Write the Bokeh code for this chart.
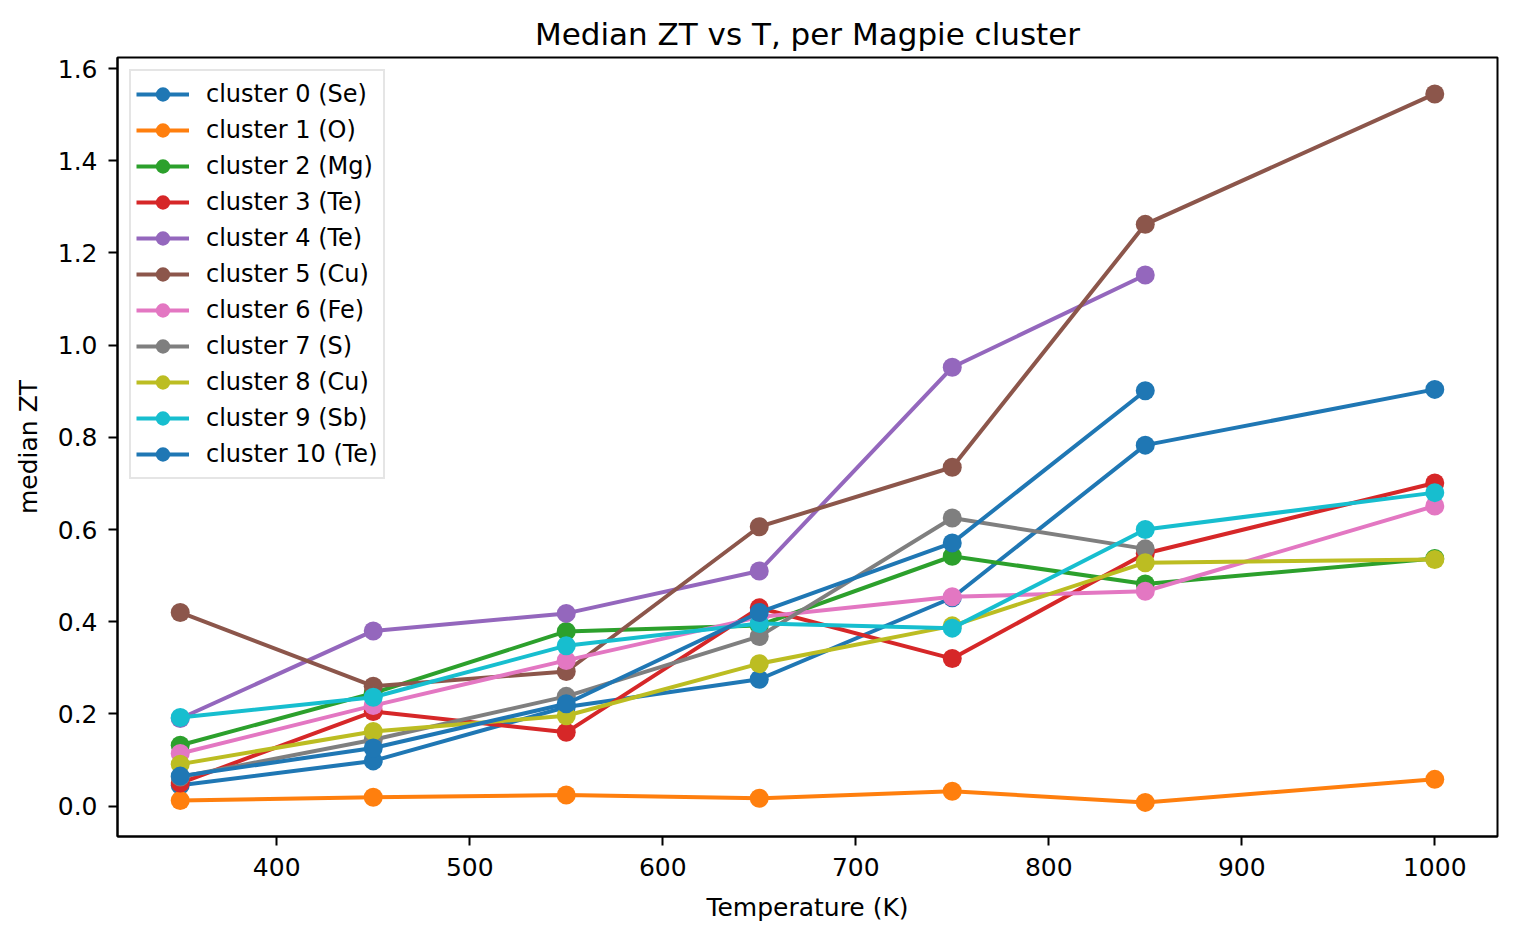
import numpy as np
from bokeh.plotting import figure
from bokeh.models import FixedTicker, PrintfTickFormatter, Range1d, Legend
from bokeh.embed import file_html
from bokeh.resources import INLINE

nan = float("nan")

temperatures = [350, 450, 550, 650, 750, 850, 1000]

labels = ["cluster 0 (Se)", "cluster 1 (O)", "cluster 2 (Mg)", "cluster 3 (Te)",
          "cluster 4 (Te)", "cluster 5 (Cu)", "cluster 6 (Fe)", "cluster 7 (S)",
          "cluster 8 (Cu)", "cluster 9 (Sb)", "cluster 10 (Te)"]

cluster0 = [0.045, 0.098, 0.215, 0.275, 0.452, 0.783, 0.904]
cluster1 = [0.012, 0.019, 0.024, 0.017, 0.032, 0.008, 0.058]
cluster2 = [0.132, 0.245, 0.379, 0.392, 0.542, 0.482, 0.537]
cluster3 = [0.050, 0.205, 0.160, 0.430, 0.320, 0.548, 0.701]
cluster4 = [0.190, 0.380, 0.418, 0.510, 0.952, 1.152, nan]
cluster5 = [0.420, 0.260, 0.292, 0.606, 0.735, 1.262, 1.545]
cluster6 = [0.114, 0.218, 0.316, 0.410, 0.454, 0.466, 0.651]
cluster7 = [0.063, 0.144, 0.238, 0.368, 0.625, 0.558, nan]
cluster8 = [0.091, 0.162, 0.196, 0.309, 0.391, 0.528, 0.535]
cluster9 = [0.192, 0.236, 0.348, 0.396, 0.386, 0.600, 0.680]
cluster10 = [0.065, 0.126, 0.222, 0.420, 0.571, 0.901, nan]

series = [cluster0, cluster1, cluster2, cluster3, cluster4, cluster5,
          cluster6, cluster7, cluster8, cluster9, cluster10]

colors = ["#1f77b4", "#ff7f0e", "#2ca02c", "#d62728", "#9467bd", "#8c564b",
          "#e377c2", "#7f7f7f", "#bcbd22", "#17becf", "#1f77b4"]

x_ticks = [400, 500, 600, 700, 800, 900, 1000]
y_ticks = [0.0, 0.2, 0.4, 0.6, 0.8, 1.0, 1.2, 1.4, 1.6]

FONT = "DejaVu Sans"

p = figure(width=1500, height=924, output_backend="svg", toolbar_location=None,
           x_range=Range1d(317.5, 1032.5), y_range=Range1d(-0.066, 1.624),
           min_border_left=117, min_border_right=3, min_border_top=57,
           min_border_bottom=84, title="Median ZT vs T, per Magpie cluster")

p.background_fill_color = "white"
p.border_fill_color = "white"
p.outline_line_color = "black"
p.outline_line_width = 2
p.grid.visible = False

p.title.align = "center"
p.title.text_font = FONT
p.title.text_font_size = "31px"
p.title.text_font_style = "normal"
p.title.text_color = "black"
p.title.offset = 0
p.title.standoff = 11

for ax in (p.xaxis[0], p.yaxis[0]):
    ax.axis_line_width = 2
    ax.axis_line_color = "black"
    ax.major_tick_line_width = 2
    ax.major_tick_line_color = "black"
    ax.major_tick_out = 9
    ax.major_tick_in = 0
    ax.minor_tick_line_color = None
    ax.major_label_text_font = FONT
    ax.major_label_text_font_size = "25px"
    ax.major_label_text_color = "black"
    ax.axis_label_text_font = FONT
    ax.axis_label_text_font_size = "25px"
    ax.axis_label_text_font_style = "normal"
    ax.axis_label_text_color = "black"

p.xaxis.major_label_standoff = 12
p.yaxis.major_label_standoff = 11
p.xaxis.ticker = FixedTicker(ticks=x_ticks)
p.yaxis.ticker = FixedTicker(ticks=y_ticks)
p.yaxis.formatter = PrintfTickFormatter(format="%.1f")
p.xaxis.axis_label = "Temperature (K)"
p.yaxis.axis_label = "median ZT"
p.xaxis.axis_label_standoff = 14
p.yaxis.axis_label_standoff = 12

items = []
for lab, ys, c in zip(labels, series, colors):
    r1 = p.line(temperatures, ys, line_color=c, line_width=4)
    r2 = p.scatter(temperatures, ys, marker="circle", size=19, fill_color=c,
                   line_color=c, line_width=0)
    items.append((lab, [r1, r2]))

legend = Legend(items=items, location="top_left")
legend.label_text_font = FONT
legend.label_text_font_size = "24px"
legend.label_text_color = "black"
legend.glyph_width = 53
legend.glyph_height = 36
legend.label_height = 36
legend.label_standoff = 17
legend.spacing = 0
legend.padding = 5
legend.margin = 12
legend.border_line_color = "#cccccc"
legend.border_line_width = 2
legend.background_fill_alpha = 0.8
p.add_layout(legend)

open("out.html", "w").write(file_html(p, INLINE))
